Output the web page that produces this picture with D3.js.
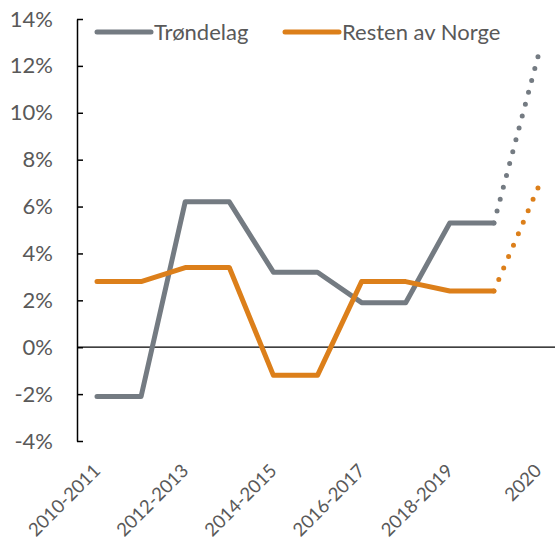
<!DOCTYPE html>
<html>
<head>
<meta charset="utf-8">
<script src="https://cdn.jsdelivr.net/npm/d3@7"></script>
<style>
  body { margin: 0; background: #fff; }
  text { font-family: Lato, "Open Sans", sans-serif; fill: #595959; }
</style>
</head>
<body>
<div id="chart"></div>
<script>
const categories = ['2010-2011', '', '2012-2013', '', '2014-2015', '', '2016-2017', '', '2018-2019', '', '2020'];
const trondelag = [-2.1, -2.1, 6.2, 6.2, 3.2, 3.2, 1.9, 1.9, 5.3, 5.3, 12.4];
const restenAvNorge = [2.8, 2.8, 3.4, 3.4, -1.2, -1.2, 2.8, 2.8, 2.4, 2.4, 6.8];
const yTicks = [-4, -2, 0, 2, 4, 6, 8, 10, 12, 14];

const series = [
  { name: 'Trøndelag', values: trondelag, color: '#747b82', legendX: 97 },
  { name: 'Resten av Norge', values: restenAvNorge, color: '#dc7f1a', legendX: 285 }
];

const width = 555;
const height = 545;
const margin = { top: 19, bottom: 104, left: 77, right: 0 };

const svg = d3.select('#chart')
  .append('svg')
  .attr('width', width)
  .attr('height', height);

const x = d3.scalePoint()
  .domain(d3.range(categories.length))
  .range([97, 538]);

const y = d3.scaleLinear()
  .domain([-4, 14])
  .range([height - margin.bottom, margin.top]);

// y axis, ticks pointing into the plot
svg.append('g')
  .attr('transform', `translate(${margin.left},0)`)
  .call(d3.axisLeft(y).tickValues(yTicks).tickFormat(d => d + '%').tickSize(-6).tickSizeOuter(0).tickPadding(24))
  .call(g => g.selectAll('path, line').attr('stroke', '#000').attr('stroke-width', 1.5))
  .call(g => g.selectAll('text').attr('font-size', '22px').attr('fill', '#595959').attr('font-family', 'Lato, sans-serif'));

// zero line
svg.append('line')
  .attr('x1', margin.left)
  .attr('x2', width)
  .attr('y1', y(0))
  .attr('y2', y(0))
  .attr('stroke', '#000')
  .attr('stroke-width', 1.3);

// x labels
svg.append('g')
  .attr('transform', `translate(0,472)`)
  .call(d3.axisBottom(x).tickFormat(i => categories[i]).tickSize(0).tickPadding(0))
  .call(g => g.select('.domain').remove())
  .call(g => g.selectAll('text')
    .attr('font-size', '18.5px')
    .attr('fill', '#595959')
    .attr('font-family', 'Lato, sans-serif')
    .attr('text-anchor', 'end')
    .attr('y', 0)
    .attr('dy', 0)
    .attr('transform', 'translate(4,0) rotate(-45)'));

const line = d3.line()
  .x(d => x(d.i))
  .y(d => y(d.v));

series.forEach(s => {
  const pts = s.values.map((v, i) => ({ i, v }));
  const n = pts.length;
  svg.append('path')
    .datum(pts.slice(0, n - 1))
    .attr('d', line)
    .attr('fill', 'none')
    .attr('stroke', s.color)
    .attr('stroke-width', 5)
    .attr('stroke-linejoin', 'round')
    .attr('stroke-linecap', 'round');
  // forecast segment, dotted
  const dotted = svg.append('path')
    .datum(pts.slice(n - 2))
    .attr('d', line)
    .attr('fill', 'none')
    .attr('stroke', s.color)
    .attr('stroke-width', 5)
    .attr('stroke-linecap', 'round');
  const len = dotted.node().getTotalLength();
  const gap = len / Math.round(len / 12.3);
  dotted.attr('stroke-dasharray', `0 ${gap - 0.01}`);
});

// legend
const legend = svg.append('g');
series.forEach(s => {
  legend.append('line')
    .attr('x1', s.legendX)
    .attr('x2', s.legendX + 54)
    .attr('y1', 32)
    .attr('y2', 32)
    .attr('stroke', s.color)
    .attr('stroke-width', 5)
    .attr('stroke-linecap', 'round');
  legend.append('text')
    .attr('x', s.legendX + 57)
    .attr('y', 40)
    .attr('font-size', '22px')
    .text(s.name);
});
</script>
</body>
</html>
